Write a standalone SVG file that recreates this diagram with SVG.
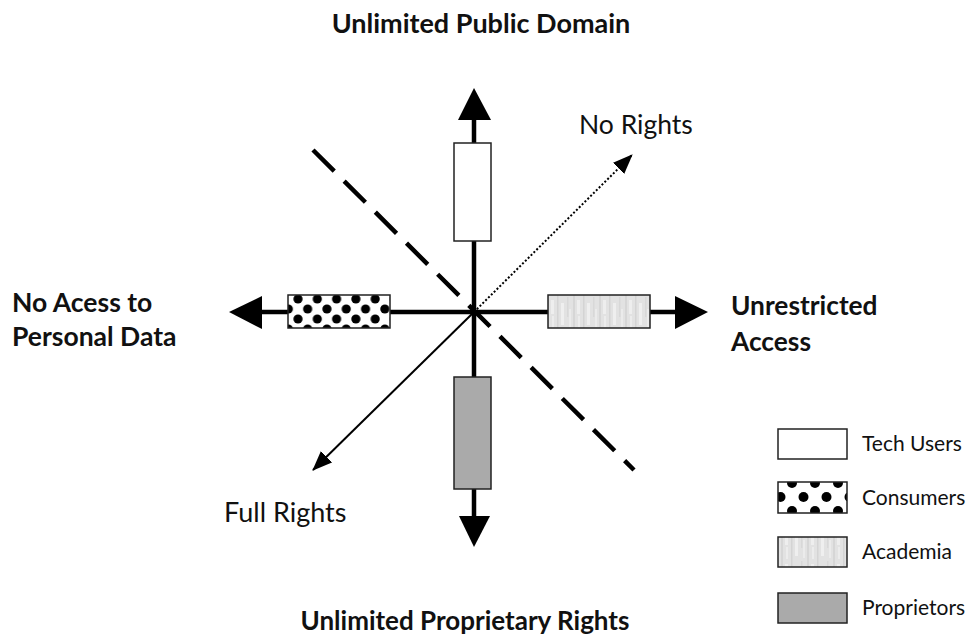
<svg xmlns="http://www.w3.org/2000/svg" width="969" height="639" viewBox="0 0 969 639">
<style>
.t{font-family:Lato,"Open Sans","Liberation Sans",sans-serif;fill:#111}
.b{font-weight:bold}
.ax{stroke:#000;stroke-width:4.5;fill:none}
.box{stroke:#222;stroke-width:1.5}
</style>
<defs>
<pattern id="dots" patternUnits="userSpaceOnUse" width="19.3" height="20" x="298" y="299">
<rect width="19.3" height="20" fill="#fff"/>
<circle cx="0" cy="0" r="4.6" fill="#000"/>
<circle cx="19.3" cy="0" r="4.6" fill="#000"/>
<circle cx="0" cy="20" r="4.6" fill="#000"/>
<circle cx="19.3" cy="20" r="4.6" fill="#000"/>
<circle cx="9.65" cy="10" r="4.6" fill="#000"/>
</pattern>
<pattern id="dotsL" patternUnits="userSpaceOnUse" width="23" height="28" x="792" y="483">
<rect width="23" height="28" fill="#fff"/>
<circle cx="0" cy="0" r="5" fill="#000"/>
<circle cx="23" cy="0" r="5" fill="#000"/>
<circle cx="0" cy="28" r="5" fill="#000"/>
<circle cx="23" cy="28" r="5" fill="#000"/>
<circle cx="11.5" cy="14" r="5" fill="#000"/>
</pattern>
<pattern id="noise" patternUnits="userSpaceOnUse" width="26" height="33">
<rect width="26" height="33" fill="#e2e2e2"/>
<rect x="1" y="0" width="2" height="33" fill="#d6d6d6"/>
<rect x="5" y="3" width="3" height="14" fill="#eeeeee"/>
<rect x="6" y="19" width="2" height="12" fill="#ececec"/>
<rect x="11" y="0" width="1.5" height="33" fill="#d4d4d4"/>
<rect x="15" y="6" width="3" height="22" fill="#efefef"/>
<rect x="21" y="0" width="1.5" height="20" fill="#d8d8d8"/>
<rect x="23" y="12" width="2" height="18" fill="#ebebeb"/>
</pattern>
<marker id="ah2" markerWidth="20" markerHeight="16" refX="19" refY="8" orient="auto" markerUnits="userSpaceOnUse" viewBox="0 0 20 16">
<path d="M0,0 L20,8 L0,16 z" fill="#000"/>
</marker>
</defs>
<rect width="969" height="639" fill="#fff"/>
<g id="connectors">
<line class="ax" x1="474" y1="118" x2="474" y2="518"/>
<line class="ax" x1="260" y1="312" x2="677" y2="312"/>
<polygon points="474,88 458,120 491,120" fill="#000"/>
<polygon points="474,547 459,516 490,516" fill="#000"/>
<polygon points="229,312 262,296 262,329" fill="#000"/>
<polygon points="708,312 675,296 675,329" fill="#000"/>
<line x1="313" y1="150" x2="634" y2="470" stroke="#000" stroke-width="4.5" stroke-dasharray="30,14"/>
<line x1="474" y1="312" x2="632" y2="155" stroke="#000" stroke-width="2" stroke-dasharray="2,2" marker-end="url(#ah2)"/>
<line x1="474" y1="312" x2="313" y2="470" stroke="#000" stroke-width="2" marker-end="url(#ah2)"/>
</g>
<g id="tech-users"><rect class="box" x="454" y="143" width="37" height="98" fill="#fff"/></g>
<g id="proprietors"><rect class="box" x="454" y="377" width="37" height="112" fill="#aaa"/></g>
<g id="consumers"><rect class="box" x="288" y="295" width="102" height="33" fill="url(#dots)"/></g>
<g id="academia"><rect class="box" x="548" y="295" width="102" height="33" fill="url(#noise)"/></g>
<g id="labels">
<text class="t b" x="481" y="33" text-anchor="middle" font-size="27">Unlimited Public Domain</text>
<text class="t b" x="465" y="630" text-anchor="middle" font-size="26">Unlimited Proprietary Rights</text>
<text class="t b" x="12" y="312" font-size="26.5">No Acess to</text>
<text class="t b" x="12" y="346" font-size="26.5">Personal Data</text>
<text class="t b" x="731" y="315" font-size="26.3">Unrestricted</text>
<text class="t b" x="731" y="351" font-size="26.3">Access</text>
<text class="t" x="579" y="134" font-size="26.5">No Rights</text>
<text class="t" x="224" y="522" font-size="27">Full Rights</text>
</g>
<g id="legend">
<rect class="box" x="778" y="429" width="69" height="30" fill="#fff"/>
<text class="t" x="862" y="451" font-size="21">Tech Users</text>
<rect class="box" x="778" y="482" width="69" height="31" fill="url(#dotsL)"/>
<text class="t" x="862" y="505" font-size="21">Consumers</text>
<rect class="box" x="778" y="537" width="69" height="30" fill="url(#noise)"/>
<text class="t" x="862" y="559" font-size="21">Academia</text>
<rect class="box" x="778" y="593" width="69" height="30" fill="#aaa"/>
<text class="t" x="862" y="615" font-size="21">Proprietors</text>
</g>
</svg>
